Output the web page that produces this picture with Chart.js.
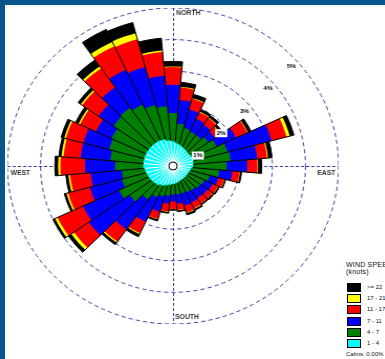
<!DOCTYPE html>
<html>
<head>
<meta charset="utf-8">
<script src="https://cdn.jsdelivr.net/npm/chart.js@4/dist/chart.umd.min.js"></script>
<style>
  html, body { margin: 0; padding: 0; background: #fff; }
  body { width: 385px; height: 359px; position: relative; overflow: hidden; }
  .edge { position: absolute; background: #07558a; }
  #wrap { position: absolute; left: 15px; top: 8px; width: 316px; height: 316px;
          transform: scaleX(1.048); transform-origin: 158px 158px; }
  #legend { position: absolute; left: 346px; top: 261px; width: 60px;
            font-family: "Liberation Sans", Arial, sans-serif; color: #111; }
  #legend .title { font-size: 7px; line-height: 7px; white-space: nowrap; letter-spacing: 0.2px; }
  #legend .row { position: absolute; left: 1px; height: 9px; white-space: nowrap; }
  #legend .sw { position: absolute; left: 0; top: 0; width: 12px; height: 7px; border: 1px solid #000; }
  #legend .lab { position: absolute; left: 20px; top: 1px; font-size: 6px; line-height: 7px; }
  #legend .calm { position: absolute; left: 0; top: 90px; font-size: 6px; white-space: nowrap; }
</style>
</head>
<body>
<div class="edge" style="left:0;top:0;width:385px;height:5px"></div>
<div class="edge" style="left:0;top:0;width:5px;height:359px"></div>
<div id="wrap"><canvas id="rose" width="316" height="316"></canvas></div>
<div id="legend"></div>
<script>
// Wind directions (degrees, sector centres, 10-degree bins)
const directions = [0, 10, 20, 30, 40, 50, 60, 70, 80, 90, 100, 110,
                    120, 130, 140, 150, 160, 170, 180, 190, 200, 210, 220, 230,
                    240, 250, 260, 270, 280, 290, 300, 310, 320, 330, 340, 350];

// Frequency (%) of each speed class per direction
const spd1to4 = [0.78, 0.72, 0.68, 0.65, 0.62, 0.60, 0.62, 0.65, 0.62, 0.60, 0.55, 0.52,
                 0.50, 0.50, 0.50, 0.50, 0.52, 0.55, 0.57, 0.60, 0.65, 0.70, 0.75, 0.78,
                 0.80, 0.82, 0.85, 0.90, 0.90, 0.90, 0.90, 0.90, 0.90, 0.90, 0.88, 0.82];
const spd4to7 = [0.90, 0.63, 0.57, 0.55, 0.58, 0.70, 0.83, 1.05, 1.13, 1.02, 0.85, 0.63,
                 0.55, 0.50, 0.45, 0.42, 0.38, 0.35, 0.33, 0.35, 0.35, 0.40, 0.55, 0.82,
                 1.00, 0.78, 0.70, 0.85, 1.00, 1.10, 1.15, 1.30, 1.35, 1.25, 1.12, 1.08];
const spd7to11 = [0.89, 0.75, 0.60, 0.45, 0.40, 0.25, 0.65, 1.38, 0.80, 0.62, 0.40, 0.27,
                  0.27, 0.28, 0.30, 0.36, 0.40, 0.30, 0.22, 0.25, 0.50, 0.85, 1.15, 1.50,
                  1.20, 1.00, 0.95, 0.91, 0.90, 0.80, 0.52, 0.55, 0.79, 1.21, 1.24, 0.97];
const spd11to17 = [0.56, 0.40, 0.35, 0.23, 0.25, 0.20, 0.38, 0.47, 0.30, 0.31, 0.22, 0.18,
                   0.18, 0.18, 0.20, 0.20, 0.22, 0.20, 0.24, 0.25, 0.24, 0.40, 0.47, 0.55,
                   0.85, 0.68, 0.62, 0.74, 0.52, 0.55, 0.53, 0.60, 0.74, 0.82, 0.91, 0.75];
const spd17to21 = [0.02, 0.02, 0.02, 0.02, 0.02, 0.02, 0.02, 0.10, 0.03, 0.02, 0.01, 0.01,
                   0.01, 0.01, 0.01, 0.02, 0.02, 0.01, 0.01, 0.01, 0.01, 0.03, 0.04, 0.10,
                   0.08, 0.05, 0.05, 0.07, 0.06, 0.05, 0.05, 0.05, 0.07, 0.15, 0.20, 0.05];
const spd22up = [0.16, 0.14, 0.13, 0.08, 0.08, 0.08, 0.10, 0.13, 0.12, 0.11, 0.05, 0.04,
                 0.04, 0.05, 0.04, 0.05, 0.06, 0.04, 0.03, 0.04, 0.05, 0.09, 0.08, 0.11,
                 0.07, 0.07, 0.08, 0.10, 0.08, 0.10, 0.10, 0.10, 0.25, 0.44, 0.35, 0.39];

const speedLabels = ['1 - 4', '4 - 7', '7 - 11', '11 - 17', '17 - 21', '>= 22'];
const speedColors = ['#00ffff', '#008000', '#0000ff', '#ff0000', '#ffff00', '#000000'];
const ringTicks = [1, 2, 3, 4, 5];
const ringLabels = ['1%', '2%', '3%', '4%', '5%'];
const compass = ['NORTH', 'EAST', 'SOUTH', 'WEST'];
const calmText = 'Calms: 0.00%';
const gridColor = '#3c3ca0';

// Petals are stacked outward: each ring is the running total of the slower classes
const classes = [spd1to4, spd4to7, spd7to11, spd11to17, spd17to21, spd22up];
const cumulative = [];
classes.forEach((arr, k) => {
  cumulative.push(arr.map((v, i) => +(v + (k ? cumulative[k - 1][i] : 0)).toFixed(3)));
});
const totals = cumulative[cumulative.length - 1];
const inner = cumulative[0];

const datasets = cumulative.map((vals, k) => ({
  label: speedLabels[k],
  data: vals,
  backgroundColor: speedColors[k],
  borderWidth: 0
}));

const roseDecor = {
  id: 'roseDecor',
  beforeDatasetsDraw(chart) {
    const s = chart.scales.r, ctx = chart.ctx;
    const R = s.drawingArea, x = s.xCenter, y = s.yCenter;
    ctx.save();
    ctx.strokeStyle = gridColor;
    ctx.lineWidth = 1;
    ctx.setLineDash([3, 2]);
    ctx.beginPath();
    ctx.moveTo(x + 0.5, y - R); ctx.lineTo(x + 0.5, y + R);
    ctx.moveTo(x - R, y + 0.5); ctx.lineTo(x + R, y + 0.5);
    ctx.stroke();
    ctx.restore();
  },
  afterDatasetsDraw(chart) {
    const s = chart.scales.r, ctx = chart.ctx;
    const R = s.drawingArea, x = s.xCenter, y = s.yCenter;
    const n = directions.length;
    const step = 2 * Math.PI / n;
    ctx.save();
    // thin white seams between the slowest-class wedges
    ctx.strokeStyle = '#fff';
    ctx.lineWidth = 1;
    ctx.beginPath();
    for (let i = 0; i < n; i++) {
      const j = (i + 1) % n;
      const a = s.getIndexAngle(j) - Math.PI / 2;
      const d = s.getDistanceFromCenterForValue(Math.min(inner[i], inner[j]));
      ctx.moveTo(x, y);
      ctx.lineTo(x + Math.cos(a) * d, y + Math.sin(a) * d);
    }
    ctx.stroke();
    // black outlines between neighbouring petals
    ctx.strokeStyle = '#000';
    ctx.lineWidth = 1;
    ctx.beginPath();
    for (let i = 0; i < n; i++) {
      const j = (i + 1) % n;
      const a = s.getIndexAngle(j) - Math.PI / 2;
      const d0 = s.getDistanceFromCenterForValue(Math.max(inner[i], inner[j]));
      const d = s.getDistanceFromCenterForValue(Math.max(totals[i], totals[j]));
      ctx.moveTo(x + Math.cos(a) * d0, y + Math.sin(a) * d0);
      ctx.lineTo(x + Math.cos(a) * d, y + Math.sin(a) * d);
    }
    ctx.stroke();
    // outer edge of each petal
    ctx.beginPath();
    for (let i = 0; i < n; i++) {
      const a0 = s.getIndexAngle(i) - Math.PI / 2;
      const d = s.getDistanceFromCenterForValue(totals[i]);
      ctx.moveTo(x + Math.cos(a0) * d, y + Math.sin(a0) * d);
      ctx.arc(x, y, d, a0, a0 + step);
    }
    ctx.stroke();

    // calm circle in the middle
    ctx.beginPath();
    ctx.arc(x, y, 4, 0, 2 * Math.PI);
    ctx.fillStyle = '#fff';
    ctx.fill();
    ctx.lineWidth = 1;
    ctx.stroke();

    // ring percentage labels
    ctx.font = 'bold 6px "Liberation Sans", Arial, sans-serif';
    ctx.textAlign = 'center';
    ctx.textBaseline = 'middle';
    ringTicks.forEach((v, k) => {
      const d = s.getDistanceFromCenterForValue(v);
      const lx = x + 1.3 + d * Math.SQRT1_2;
      const ly = y + 11.9 - d * Math.SQRT1_2;
      const w = ctx.measureText(ringLabels[k]).width + 3;
      ctx.fillStyle = '#fff';
      ctx.fillRect(lx - w / 2, ly - 4, w, 8);
      ctx.fillStyle = '#000';
      ctx.fillText(ringLabels[k], lx, ly);
    });

    // compass point names
    ctx.font = 'bold 6.5px "Liberation Sans", Arial, sans-serif';
    ctx.fillStyle = '#333';
    ctx.textBaseline = 'middle';
    ctx.textAlign = 'left';
    ctx.fillText(compass[0], x + 3, y - R + 5);
    ctx.fillText(compass[2], x + 2, y + R - 7);
    ctx.fillText(compass[3], x - R + 3, y + 7);
    ctx.textAlign = 'right';
    ctx.fillText(compass[1], x + R - 3, y + 7);
    ctx.restore();
  }
};

new Chart(document.getElementById('rose'), {
  type: 'polarArea',
  data: { labels: directions.map(d => d + '°'), datasets },
  options: {
    responsive: false,
    animation: false,
    layout: { padding: 0 },
    plugins: { legend: { display: false }, tooltip: { enabled: false } },
    scales: {
      r: {
        min: 0,
        max: 5,
        startAngle: -5,
        ticks: { display: false, stepSize: 1 },
        grid: { circular: true, color: gridColor, lineWidth: 1 },
        border: { dash: [4, 3] },
        angleLines: { display: false },
        pointLabels: { display: false }
      }
    }
  },
  plugins: [roseDecor]
});

// legend
const lg = document.getElementById('legend');
let html = '<div class="title">WIND SPEED</div><div class="title">(knots)</div>';
for (let k = speedLabels.length - 1, r = 0; k >= 0; k--, r++) {
  html += '<div class="row" style="top:' + (22 + r * 11.2) + 'px"><div class="sw" style="background:' +
          speedColors[k] + '"></div><div class="lab">' + speedLabels[k] + '</div></div>';
}
html += '<div class="calm">' + calmText + '</div>';
lg.innerHTML = html;
</script>
</body>
</html>
